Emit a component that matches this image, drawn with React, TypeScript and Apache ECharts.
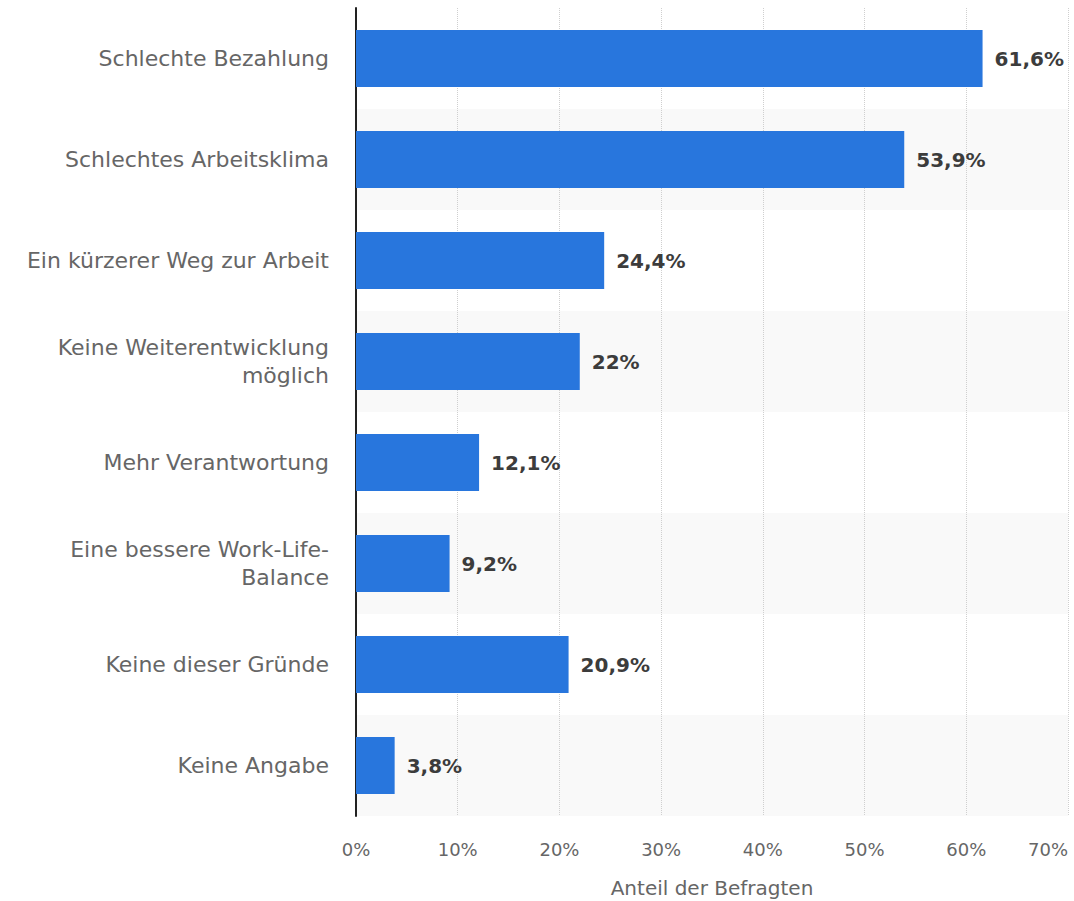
import React, { useEffect, useRef } from "react";
import * as echarts from "echarts";

const categories = [
  "Schlechte Bezahlung",
  "Schlechtes Arbeitsklima",
  "Ein kürzerer Weg zur Arbeit",
  "Keine Weiterentwicklung\nmöglich",
  "Mehr Verantwortung",
  "Eine bessere Work-Life-\nBalance",
  "Keine dieser Gründe",
  "Keine Angabe",
];
const values = [61.6, 53.9, 24.4, 22, 12.1, 9.2, 20.9, 3.8];
const axisTitle = "Anteil der Befragten";

export default function App() {
  const ref = useRef<HTMLDivElement>(null);
  useEffect(() => {
    if (!ref.current) return;
    const chart = echarts.init(ref.current, null, { renderer: "svg" });
    const font = "DejaVu Sans";
    chart.setOption({
      animation: false,
      backgroundColor: "#ffffff",
      grid: { left: 356, right: 6, top: 8, bottom: 85, outerBoundsMode: "none", containLabel: false },
      xAxis: {
        type: "value",
        min: 0,
        max: 70,
        interval: 10,
        name: axisTitle,
        nameLocation: "middle",
        nameGap: 62,
        nameTextStyle: { fontFamily: font, fontSize: 20, color: "#666" },
        axisLine: { show: false },
        axisTick: { show: false },
        axisLabel: {
          fontFamily: font,
          fontSize: 18,
          color: "#666",
          margin: 24,
          alignMaxLabel: "right",
          formatter: (v: number) => v + "%",
        },
        splitLine: { show: true, lineStyle: { type: "dotted", color: "#cfcfcf", width: 1 } },
      },
      yAxis: {
        type: "category",
        data: categories,
        inverse: true,
        axisLine: { show: true, lineStyle: { color: "#222", width: 2 } },
        axisTick: { show: false },
        axisLabel: {
          fontFamily: font,
          fontSize: 22,
          color: "#666",
          margin: 27,
          lineHeight: 28,
          align: "right",
        },
        splitArea: { show: true, areaStyle: { color: ["rgba(255,255,255,0)", "#f9f9f9"] } },
      },
      series: [
        {
          type: "bar",
          data: values,
          barWidth: 57,
          itemStyle: { color: "#2876dd" },
          label: {
            show: true,
            position: "right",
            distance: 12,
            fontFamily: font,
            fontSize: 20,
            fontWeight: "bold",
            color: "#3c3c3c",
            formatter: (p: any) => String(p.value).replace(".", ",") + "%",
          },
        },
      ],
    });
    return () => chart.dispose();
  }, []);
  return (
    <div
      ref={ref}
      style={{ position: "fixed", left: 0, top: 0, width: 1074, height: 901 }}
    />
  );
}
